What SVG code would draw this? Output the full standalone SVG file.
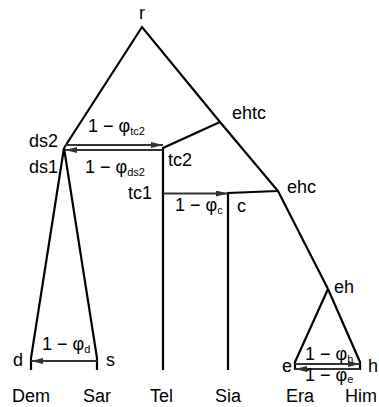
<svg xmlns="http://www.w3.org/2000/svg" width="379" height="407" viewBox="0 0 379 407">
<defs>
<marker id="ah" viewBox="0 0 12 6" refX="12" refY="3" markerWidth="12" markerHeight="6" markerUnits="userSpaceOnUse" orient="auto">
<path d="M0,0 L12,3 L0,6 Z" fill="#333"/>
</marker>
<style>
.ln{fill:none;stroke:#000;stroke-width:2.2;stroke-linejoin:miter}
.ar{fill:none;stroke:#333;stroke-width:1.8;marker-end:url(#ah)}
text{font-family:"Liberation Sans",Arial,sans-serif;font-size:18px;fill:#000}
.sub{font-size:11px}
.e{text-anchor:end}
.m{text-anchor:middle}
</style>
</defs>
<rect width="379" height="407" fill="#fff"/>
<g id="connectors">
<path class="ln" d="M64,148 L142,27 L220,122 L278,191 L328,289"/>
<path class="ln" d="M220,122 L163,148 L163,370"/>
<path class="ln" d="M278,191 L228,193 L228,370"/>
<path class="ln" d="M64,148 L31,358 L31,370"/>
<path class="ln" d="M64,148 L97,358 L97,370"/>
<path class="ln" d="M328,289 L295,362 L295,370"/>
<path class="ln" d="M328,289 L360,362 L360,370"/>
<path class="ar" d="M65,145 L163,145"/>
<path class="ar" d="M163,150 L65,150"/>
<path class="ar" d="M163,193.5 L228,193.5"/>
<path class="ar" d="M97,361 L31,361"/>
<path class="ar" d="M295,364 L360,364"/>
<path class="ar" d="M360,369 L295,369"/>
</g>
<g id="r"><text class="m" x="142" y="19">r</text></g>
<g id="ds2"><text class="e" x="58" y="147">ds2</text></g>
<g id="ds1"><text class="e" x="58" y="173">ds1</text></g>
<g id="tc2"><text x="168" y="166">tc2</text></g>
<g id="tc1"><text class="e" x="152" y="199">tc1</text></g>
<g id="c"><text x="237" y="212">c</text></g>
<g id="ehtc"><text x="232" y="119">ehtc</text></g>
<g id="ehc"><text x="287" y="193">ehc</text></g>
<g id="eh"><text x="334" y="293">eh</text></g>
<g id="e"><text class="e" x="292" y="372">e</text></g>
<g id="h"><text x="368" y="372">h</text></g>
<g id="d"><text x="13" y="366">d</text></g>
<g id="s"><text x="106" y="366">s</text></g>
<g id="lbl-tc2"><text x="88" y="132">1 − φ<tspan class="sub" dy="3">tc2</tspan></text></g>
<g id="lbl-ds2"><text x="85" y="173">1 − φ<tspan class="sub" dy="3">ds2</tspan></text></g>
<g id="lbl-c"><text x="175" y="211">1 − φ<tspan class="sub" dy="3">c</tspan></text></g>
<g id="lbl-d"><text x="42" y="350">1 − φ<tspan class="sub" dy="3">d</tspan></text></g>
<g id="lbl-h"><text x="305" y="360">1 − φ<tspan class="sub" dy="3">h</tspan></text></g>
<g id="lbl-e"><text x="305" y="381">1 − φ<tspan class="sub" dy="2">e</tspan></text></g>
<g id="Dem"><text x="12" y="402">Dem</text></g>
<g id="Sar"><text x="83" y="402">Sar</text></g>
<g id="Tel"><text x="150" y="402">Tel</text></g>
<g id="Sia"><text x="215" y="402">Sia</text></g>
<g id="Era"><text x="286" y="402">Era</text></g>
<g id="Him"><text x="345" y="402">Him</text></g>
</svg>
